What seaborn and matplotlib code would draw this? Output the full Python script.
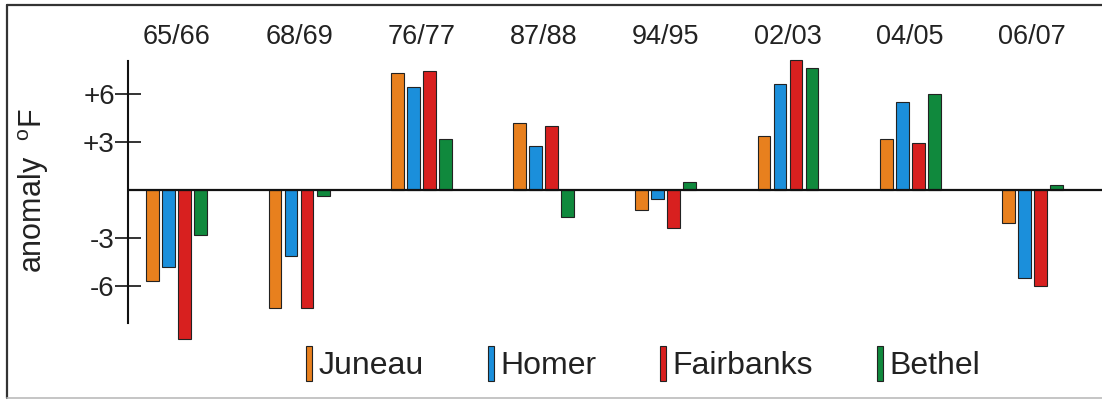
import matplotlib
matplotlib.use("Agg")
import matplotlib.pyplot as plt
from matplotlib.lines import Line2D
import seaborn as sns
import pandas as pd

seasons = ["65/66", "68/69", "76/77", "87/88", "94/95", "02/03", "04/05", "06/07"]
stations = ["Juneau", "Homer", "Fairbanks", "Bethel"]
juneau = [-5.7, -7.35, 7.3, 4.2, -1.25, 3.4, 3.2, -2.05]
homer = [-4.8, -4.1, 6.45, 2.75, -0.55, 6.6, 5.5, -5.5]
fairbanks = [-9.3, -7.4, 7.45, 4.0, -2.4, 8.1, 2.95, -6.0]
bethel = [-2.8, -0.4, 3.2, -1.7, 0.5, 7.65, 6.0, 0.3]
ytick_vals = [-6, -3, 3, 6]
ytick_labels = ["-6", "-3", "+3", "+6"]
colors = ["#E8801E", "#1B8FDB", "#D8201F", "#10893D"]

series = {"Juneau": juneau, "Homer": homer, "Fairbanks": fairbanks, "Bethel": bethel}
rows = []
for st in stations:
    for s, v in zip(seasons, series[st]):
        rows.append({"season": s, "station": st, "anomaly": v})
df = pd.DataFrame(rows)

sns.set_theme(style="white")
plt.rcParams["font.family"] = ["Liberation Sans", "DejaVu Sans"]
plt.rcParams["mathtext.fontset"] = "custom"
plt.rcParams["mathtext.rm"] = "Liberation Sans"

W, H = 1102, 400
fig = plt.figure(figsize=(W / 100, H / 100), dpi=100)
fig.patch.set_facecolor("white")

y_top, y_bot = 8.3, -11.0
px_per_unit = 16.0
zero_px = 190.0
ax_top_px = zero_px - y_top * px_per_unit
ax_bot_px = zero_px - y_bot * px_per_unit
ax = fig.add_axes([128 / W, (H - ax_bot_px) / H, 974 / W, (ax_bot_px - ax_top_px) / H])
ax.set_facecolor("white")

sns.barplot(data=df, x="season", y="anomaly", hue="station", order=seasons,
            hue_order=stations, palette=colors, width=0.524, gap=0.2,
            edgecolor="#222222", linewidth=0.8, saturation=1, ax=ax, zorder=2)

ax.set_xlim(-0.40, 7.57)
ax.set_ylim(y_bot, y_top)
ax.axhline(0, color="#111111", lw=1.6, zorder=5)

for sp in ["top", "right", "bottom"]:
    ax.spines[sp].set_visible(False)
ax.spines["left"].set_bounds(-8.3, 8.06)
ax.spines["left"].set_linewidth(1.5)
ax.spines["left"].set_color("#111111")

ax.set_yticks(ytick_vals)
ax.set_yticklabels(ytick_labels)
ax.tick_params(axis="y", left=True, direction="inout", length=19, width=1.2,
               color="#111111", labelsize=20, pad=0, labelcolor="#222222")

ax.xaxis.set_ticks_position("top")
ax.tick_params(axis="x", length=0, labelsize=19.5, pad=5, labelcolor="#222222",
               top=True, labeltop=True, bottom=False, labelbottom=False)
ax.set_xlabel("")
ax.set_ylabel("")

fig.text(34 / W, (H - 191) / H, "anomaly  $^{\\mathregular{o}}$F", rotation=90,
         ha="center", va="center", fontsize=22, color="#222222")

leg = ax.get_legend()
handles = leg.legend_handles
labels = [t.get_text() for t in leg.get_texts()]
leg.remove()
fig.legend(handles, labels, ncol=4, loc="upper left",
           bbox_to_anchor=(306 / W, (H - 346) / H), bbox_transform=fig.transFigure,
           frameon=False, fontsize=23, handlelength=0.19, handleheight=1.3,
           handletextpad=0.2, columnspacing=2.0, borderpad=0, borderaxespad=0,
           labelcolor="#222222")

# outer frame
fig.add_artist(Line2D([7 / W, 1.0], [1 - 5 / H, 1 - 5 / H], transform=fig.transFigure,
                      color="#333333", lw=1.6))
fig.add_artist(Line2D([7 / W, 7 / W], [1 - 5 / H, 2 / H], transform=fig.transFigure,
                      color="#333333", lw=1.6))
fig.add_artist(Line2D([7 / W, 1.0], [2 / H, 2 / H], transform=fig.transFigure,
                      color="#BBBBBB", lw=1.2))

fig.savefig("out.png", dpi=100, facecolor="white")
